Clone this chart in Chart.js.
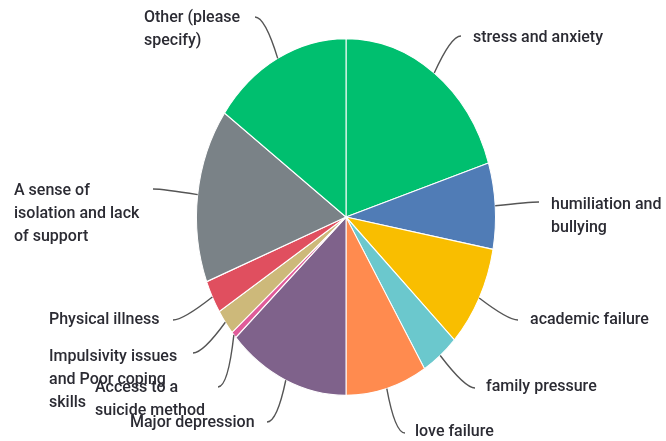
<!DOCTYPE html>
<html>
<head>
<meta charset="utf-8">
<script src="https://cdn.jsdelivr.net/npm/chart.js@4.4.1/dist/chart.umd.min.js"></script>
<style>
  html, body { margin: 0; padding: 0; background: #fff; }
  #wrap { width: 666px; height: 441px; }
</style>
</head>
<body>
<div id="wrap"><canvas id="pie" width="666" height="441"></canvas></div>
<script>
// Data (percent of responses)
const categories = [
  'stress and anxiety',
  'humiliation and bullying',
  'academic failure',
  'family pressure',
  'love failure',
  'Major depression',
  'Access to a suicide method',
  'Impulsivity issues and Poor coping skills',
  'Physical illness',
  'A sense of isolation and lack of support',
  'Other (please specify)'
];
const values = [20.1, 7.8, 9.2, 4.1, 8.8, 13.2, 0.6, 2.3, 3.0, 15.8, 15.1];
const colors = [
  '#00bf6f', '#507cb6', '#f9be00', '#6bc8cd', '#ff8b4f',
  '#7f628b', '#e05c9a', '#cdb97a', '#e04f5f', '#7a8287', '#00bf6f'
];

// Label layout: wrapped lines and text anchor (left x, first line centre y)
const labelLines = [
  ['stress and anxiety'],
  ['humiliation and', 'bullying'],
  ['academic failure'],
  ['family pressure'],
  ['love failure'],
  ['Major depression'],
  ['Access to a', 'suicide method'],
  ['Impulsivity issues', 'and Poor coping', 'skills'],
  ['Physical illness'],
  ['A sense of', 'isolation and lack', 'of support'],
  ['Other (please', 'specify)']
];
const labelPos = [
  { x: 473, y: 38, ex: 461, ey: 36 },
  { x: 551, y: 205, ex: 539, ey: 202 },
  { x: 530, y: 320, ex: 518, ey: 320 },
  { x: 486, y: 387, ex: 475, ey: 388 },
  { x: 415, y: 432, ex: 405, ey: 433 },
  { x: 130, y: 423, ex: 267, ey: 422 },
  { x: 95, y: 388, ex: 218, ey: 387 },
  { x: 49, y: 357, ex: 193, ey: 353 },
  { x: 49, y: 320, ex: 173, ey: 320 },
  { x: 14, y: 191, ex: 153, ey: 189 },
  { x: 144, y: 18, ex: 255, ey: 17 }
];
const stretchY = 1.193; // the pie is drawn taller than wide

const ellipsePlugin = {
  id: 'ellipse',
  beforeDatasetsDraw(chart) {
    const arc = chart.getDatasetMeta(0).data[0];
    const ctx = chart.ctx;
    ctx.save();
    ctx.translate(arc.x, arc.y);
    ctx.scale(1, stretchY);
    ctx.translate(-arc.x, -arc.y);
  },
  afterDatasetsDraw(chart) {
    chart.ctx.restore();
  }
};

const leaderPlugin = {
  id: 'leaders',
  afterDraw(chart) {
    const ctx = chart.ctx;
    const arcs = chart.getDatasetMeta(0).data;
    ctx.save();
    ctx.font = '500 16px Roboto';
    ctx.fillStyle = '#2b2b33';
    ctx.textBaseline = 'middle';
    ctx.textAlign = 'left';
    arcs.forEach((arc, i) => {
      const a = (arc.startAngle + arc.endAngle) / 2;
      const sx = arc.x + arc.outerRadius * Math.cos(a);
      const sy = arc.y + arc.outerRadius * stretchY * Math.sin(a);
      const p = labelPos[i];
      const side = p.ex > sx ? 1 : -1;
      ctx.strokeStyle = '#555';
      ctx.lineWidth = 1.4;
      ctx.beginPath();
      ctx.moveTo(sx, sy);
      ctx.quadraticCurveTo(p.ex - 10 * side, p.ey, p.ex, p.ey);
      ctx.stroke();
      labelLines[i].forEach((line, j) => {
        ctx.fillText(line, p.x, p.y + j * 23);
      });
    });
    ctx.restore();
  }
};

new Chart(document.getElementById('pie'), {
  type: 'pie',
  data: {
    labels: categories,
    datasets: [{
      data: values,
      backgroundColor: colors,
      borderColor: '#ffffff',
      borderWidth: 1
    }]
  },
  options: {
    responsive: false,
    animation: false,
    layout: { padding: { left: 196, right: 170, top: 67, bottom: 74 } },
    plugins: {
      legend: { display: false },
      tooltip: { enabled: false }
    }
  },
  plugins: [ellipsePlugin, leaderPlugin]
});
</script>
</body>
</html>
